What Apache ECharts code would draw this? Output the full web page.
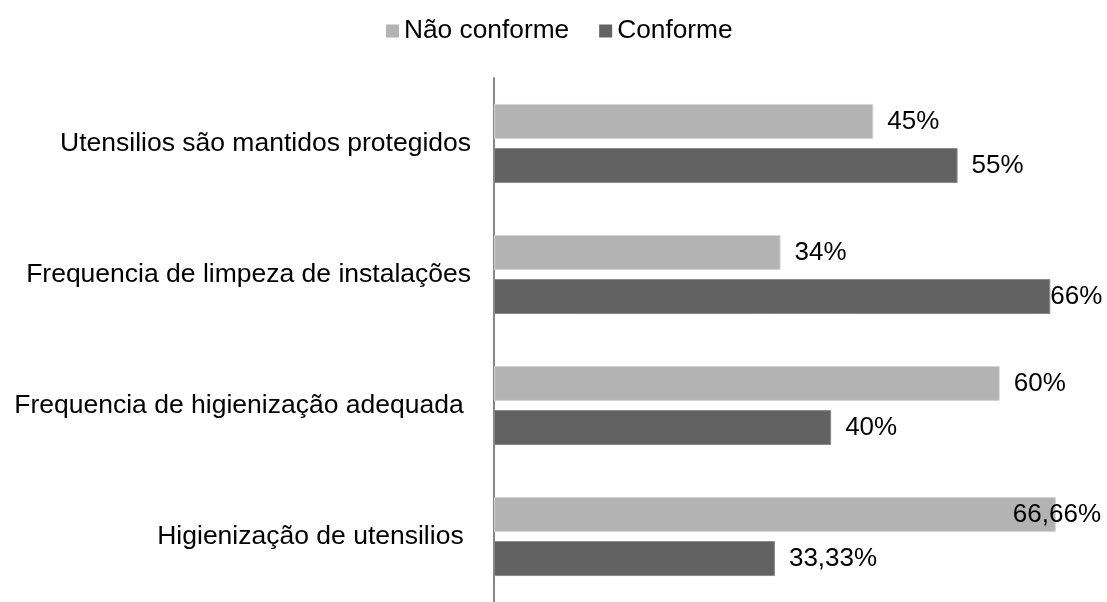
<!DOCTYPE html>
<html>
<head>
<meta charset="utf-8">
<script src="https://cdn.jsdelivr.net/npm/echarts@6/dist/echarts.min.js"></script>
<style>
html,body{margin:0;padding:0;background:#fff;}
#chart{width:1107px;height:602px;}
</style>
</head>
<body>
<div id="chart"></div>
<script>
var categories = [
  'Utensilios são mantidos protegidos',
  'Frequencia de limpeza de instalações',
  'Frequencia de higienização adequada ',
  'Higienização de utensilios '
];
var seriesNames = ['Não conforme', 'Conforme'];
var naoConforme = [45, 34, 60, 66.66];
var conforme = [55, 66, 40, 33.33];

var FONT = '"Liberation Sans", Arial, sans-serif';
function fmt(p) { return String(p.value).replace('.', ',') + '%'; }

function labelFor(values, special) {
  return values.map(function (v, i) {
    var item = { value: v };
    if (special[i]) item.label = special[i];
    return item;
  });
}

var baseLabel = {
  show: true, position: 'right', distance: 14,
  color: '#000', fontSize: 26, fontFamily: FONT, formatter: fmt
};

var chart = echarts.init(document.getElementById('chart'), null, { renderer: 'canvas' });
chart.setOption({
  animation: false,
  backgroundColor: '#fff',
  legend: {
    data: seriesNames,
    top: 11, left: 381,
    icon: 'rect', itemWidth: 13, itemHeight: 13, itemGap: 30,
    itemStyle: { borderWidth: 0 },
    textStyle: { color: '#000', fontSize: 26.3, fontFamily: FONT, lineHeight: 30 }
  },
  grid: { left: 494, right: 23, top: 78, bottom: -6, containLabel: false },
  xAxis: {
    type: 'value', min: 0, max: 70,
    show: false
  },
  yAxis: {
    type: 'category', data: categories, inverse: true,
    axisLine: { show: true, lineStyle: { color: '#868686', width: 2 } },
    axisTick: { show: false },
    axisLabel: { color: '#000', fontSize: 26.5, fontFamily: FONT, margin: 23 },
    splitLine: { show: false }
  },
  series: [
    {
      name: seriesNames[0], type: 'bar',
      barWidth: 35, barGap: '26%',
      itemStyle: { color: '#b3b3b3', borderColor: '#d4d4d4', borderWidth: 1 },
      label: baseLabel,
      data: labelFor(naoConforme, { 3: { distance: 0, offset: [-43, 0] } })
    },
    {
      name: seriesNames[1], type: 'bar',
      barWidth: 35, barGap: '26%',
      itemStyle: { color: '#626262', borderColor: '#8a8a8a', borderWidth: 1 },
      label: baseLabel,
      data: labelFor(conforme, { 1: { distance: 0 } })
    }
  ]
});
</script>
</body>
</html>
